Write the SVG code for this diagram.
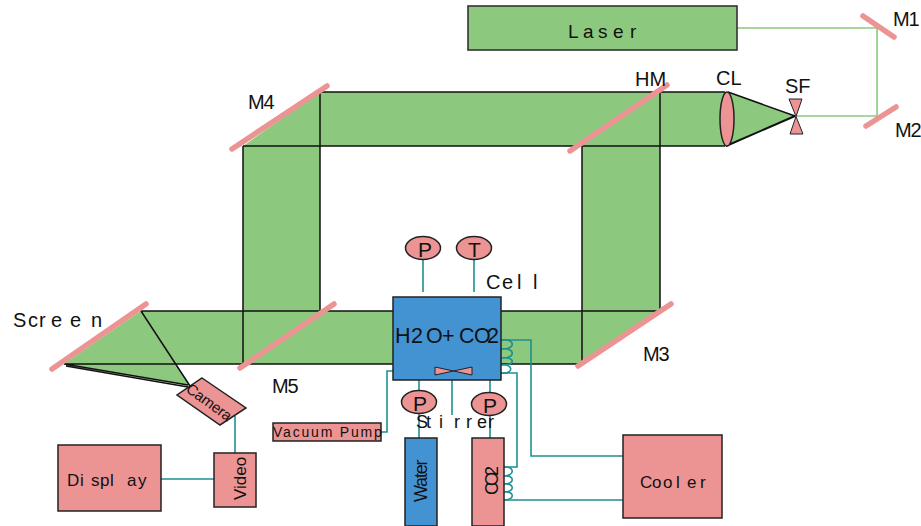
<svg xmlns="http://www.w3.org/2000/svg" width="921" height="526" viewBox="0 0 921 526">
<style>
text{font-family:"Liberation Sans",Arial,sans-serif;fill:#111;font-size:20px}
.b{fill:#8CC97E;stroke:none}
.g{fill:#8CC97E;stroke:#333;stroke-width:1.6}
.k{fill:none;stroke:#111;stroke-width:1.5}
.m{fill:none;stroke:#EC9494;stroke-width:5.5;stroke-linecap:round}
.p{fill:#EC9494;stroke:#222;stroke-width:1.5}
.w{fill:#4393D3;stroke:#222;stroke-width:1.5}
.t{fill:none;stroke:#1E9090;stroke-width:1.6}
.l{fill:none;stroke:#8CC97E;stroke-width:1.6}
.n{letter-spacing:-1.2px}
.r{font-size:21px}
</style>
<g id="beams">
<polygon class="b" points="243,146 320,92 725,92 725,146 320,146 320,311 243,311"/>
<polygon class="b" points="582,146 660,92 660,311 582,311"/>
<polygon class="b" points="141,311 660,311 582,364 64,364"/>
<polygon class="b" points="64,364 190,386 141,311"/>
<polygon class="b" points="728,92 795,116 726,146"/>
</g>
<g id="connectors">
<path class="l" d="M737 28H877V116H797"/>
<path class="k" d="M320 92H725M320 146H725M320 92V311M243 146H320M243 146V364M660 92V311M582 146V364M141 311H393M141 311L190 386M64 364H582M64 364L188 385M66 366L188 387M501 311H660M728 92L795 116"/>
<path d="M726 146L795 116" fill="none" stroke="#111" stroke-width="2"/>
<path class="t" d="M423 260V292M474 260V292M419 380V438M490 380V438M235 416V453M161 479H214M393 371H387V432H381M452 371V415"/>
<path class="t" d="M501 340H531V456H623M501 373H517V467H504M504 500H623"/>
<path class="t" d="M501 340C516 338 516 350 501 349C516 347 516 359 501 358C516 356 516 366 501 365C514 363 514 375 501 373"/>
<path class="t" d="M504 467C515 466 515 476 504 476C515 475 515 484 504 484C515 483 515 492 504 492C515 491 515 500 504 500"/>
</g>
<g id="laser"><rect class="g" x="468" y="6" width="269" height="44"/><text x="568 583 598 613 630" y="38" style="font-size:19px">Laser</text></g>
<g id="m1"><line class="m" x1="863" y1="16" x2="894" y2="37"/><text x="893" y="26" class="n">M1</text></g>
<g id="m2"><line class="m" x1="866" y1="126" x2="896" y2="107"/><text x="895" y="137" class="n">M2</text></g>
<g id="hm"><line class="m" x1="570" y1="151" x2="667" y2="85"/><text x="635" y="86">HM</text></g>
<g id="m3"><line class="m" x1="578" y1="366" x2="671" y2="304"/><text x="643" y="361" class="n">M3</text></g>
<g id="m4"><line class="m" x1="232" y1="149" x2="327" y2="86"/><text x="248" y="109" class="n">M4</text></g>
<g id="m5"><line class="m" x1="240" y1="368" x2="334" y2="304"/><text x="272" y="393" class="n">M5</text></g>
<g id="screen"><line class="m" x1="52" y1="369" x2="146" y2="304"/><text x="13 28 39 51 70 91" y="327">Screen</text></g>
<g id="cl"><ellipse class="p" cx="727" cy="119" rx="7" ry="27"/><text x="716" y="85">CL</text></g>
<g id="sf"><polygon class="p" points="789,99 802,99 790,134 803,134" style="stroke-width:1"/><text x="785" y="93">SF</text></g>
<g id="cell"><rect class="w" x="393" y="297" width="108" height="83"/><text x="395 411 423 426 442 453 459 474 487" y="343" style="font-size:21.5px">H2 O+ CO2</text><text x="486 502 517 533" y="289">Cell</text></g>
<g id="stirrer"><polygon class="p" points="435,367 435,375 472,367 472,375" style="stroke-width:1"/><text x="416 426 439 454 466 477 488" y="428" style="font-size:18px">Stirrer</text></g>
<g id="gauge-p1"><ellipse class="p" cx="423" cy="248" rx="17.5" ry="11.5"/><text x="418" y="257" class="r">P</text></g>
<g id="gauge-t"><ellipse class="p" cx="474" cy="248" rx="17.5" ry="11.5"/><text x="468" y="257" class="r">T</text></g>
<g id="gauge-p2"><ellipse class="p" cx="419" cy="402" rx="17.5" ry="11.5"/><text x="413" y="411" class="r">P</text></g>
<g id="gauge-p3"><ellipse class="p" cx="489" cy="404" rx="17.5" ry="11.5"/><text x="483" y="413" class="r">P</text></g>
<g id="vacuum"><rect class="p" x="273" y="423" width="108" height="18"/><text x="273" y="437" style="font-size:14px;letter-spacing:1.8px">Vacuum Pump</text></g>
<g id="water"><rect class="w" x="405" y="438" width="32" height="88"/><text transform="translate(427,502) rotate(-90)" style="font-size:18px;letter-spacing:-1.2px">Water</text></g>
<g id="co2"><rect class="p" x="472" y="438" width="32" height="88"/><text transform="translate(498,495) rotate(-90)" style="font-size:18px;letter-spacing:-4px">CO2</text></g>
<g id="cooler"><rect class="p" x="623" y="435" width="99" height="83"/><text x="640 652 663 676 687 700" y="488" style="font-size:17px">Cooler</text></g>
<g id="camera"><polygon class="p" points="202,378 246,408 220,425 177,395"/><text transform="translate(185,391) rotate(36)" style="font-size:15px;letter-spacing:-.2px">Camera</text></g>
<g id="video"><rect class="p" x="214" y="453" width="42" height="54"/><text transform="translate(246,500) rotate(-90)" style="font-size:17px">Video</text></g>
<g id="display"><rect class="p" x="58" y="445" width="103" height="66"/><text x="67 80 91 100 110 127 138" y="486" style="font-size:17px">Display</text></g>
</svg>
